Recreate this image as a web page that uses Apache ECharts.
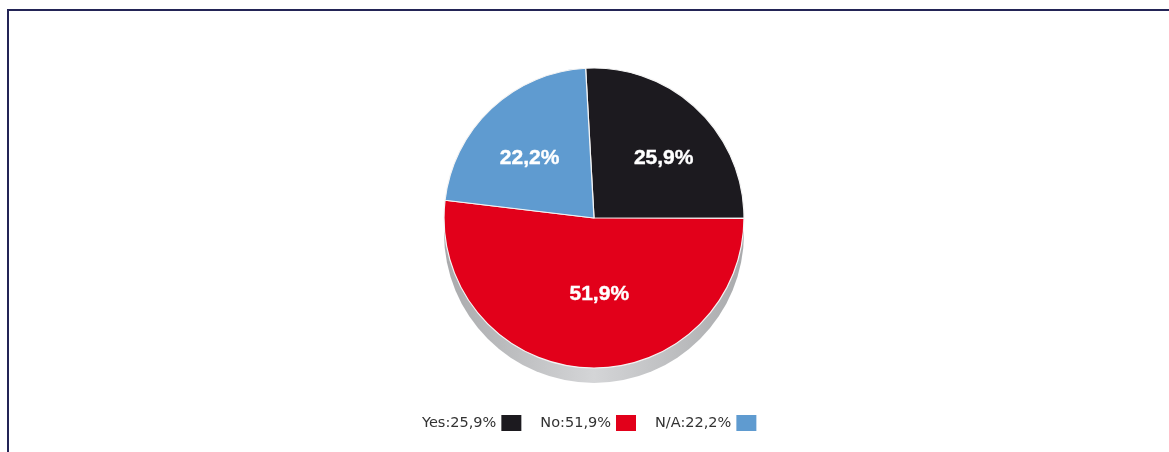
<!DOCTYPE html>
<html>
<head>
<meta charset="utf-8">
<script src="https://cdn.jsdelivr.net/npm/echarts@6/dist/echarts.min.js"></script>
<style>
  html, body { margin: 0; padding: 0; background: #fff; }
  #answers_pie { width: 1169px; height: 452px; }
</style>
</head>
<body>
<div id="answers_pie"></div>
<script>
// Data
var categories = ["Yes", "No", "N/A"];
var answerCounts = [7, 14, 6];
var sliceColors = ["#1c1a1f", "#e2001a", "#5f9bd0"];

var fmtPercent = function (p) {
  return p.toFixed(1).replace(".", ",") + "%";
};

var totalCount = answerCounts.reduce(function (a, b) { return a + b; }, 0);

var answersPie = (function () {
  var answersPieChart = function () {
    if (typeof echarts == "undefined") {
      console.warn("Warning - echarts.min.js is not loaded.");
      return;
    }

    var answers_pie_element = document.getElementById("answers_pie");
    if (!answers_pie_element) return;

    var answers_pie = echarts.init(answers_pie_element);

    var pieData = categories.map(function (name, i) {
      return { name: name, value: answerCounts[i], itemStyle: { color: sliceColors[i] } };
    });

    // label nudges so the numbers sit where the original has them
    var labelNudge = [[16, -3], [10, -2], [-11, -3]];

    answers_pie.setOption({
      animation: false,
      textStyle: { fontFamily: "DejaVu Sans, Verdana, sans-serif" },

      // frame
      graphic: [
        {
          type: "rect",
          shape: { x: 8, y: 10, width: 1300, height: 600 },
          style: { fill: "none", stroke: "#232456", lineWidth: 2 },
          silent: true,
          z: 100
        }
      ],

      legend: {
        left: 417,
        top: 410,
        align: "right",
        itemWidth: 20,
        itemHeight: 16,
        itemGap: 19,
        icon: "rect",
        itemStyle: { borderWidth: 0 },
        textStyle: { fontSize: 14.5, color: "#333" },
        formatter: function (name) {
          var i = categories.indexOf(name);
          return name + ":" + fmtPercent(answerCounts[i] / totalCount * 100);
        },
        data: categories
      },

      series: [
        // depth under the pie
        {
          name: "depth",
          type: "pie",
          silent: true,
          center: [594, 233],
          radius: [0, 150],
          label: { show: false },
          labelLine: { show: false },
          itemStyle: {
            color: {
              type: "linear", x: 0, y: 0, x2: 1, y2: 0,
              colorStops: [
                { offset: 0, color: "#a9aaac" },
                { offset: 0.5, color: "#d4d5d7" },
                { offset: 1, color: "#a9aaac" }
              ]
            }
          },
          data: [{ name: "depth", value: 1 }],
          z: 1
        },
        {
          name: "Answers",
          type: "pie",
          center: [594, 218],
          radius: [0, 150],
          startAngle: 93.2,
          clockwise: true,
          percentPrecision: 1,
          itemStyle: { borderColor: "#f4f4f4", borderWidth: 1.2 },
          label: {
            show: true,
            position: "inside",
            color: "#fff",
            fontFamily: "Liberation Sans, Arial, sans-serif",
            fontWeight: "bold",
            fontSize: 21,
            textBorderColor: "#fff",
            textBorderWidth: 0.4,
            formatter: function (p) { return fmtPercent(p.percent); }
          },
          labelLayout: function (params) {
            var n = labelNudge[params.dataIndex];
            return { dx: n[0], dy: n[1] };
          },
          labelLine: { show: false },
          emphasis: { disabled: true },
          data: pieData,
          z: 2
        }
      ]
    });
  };

  return {
    init: function () {
      answersPieChart();
    }
  };
})();

document.addEventListener("DOMContentLoaded", function () {
  answersPie.init();
});
</script>
</body>
</html>
